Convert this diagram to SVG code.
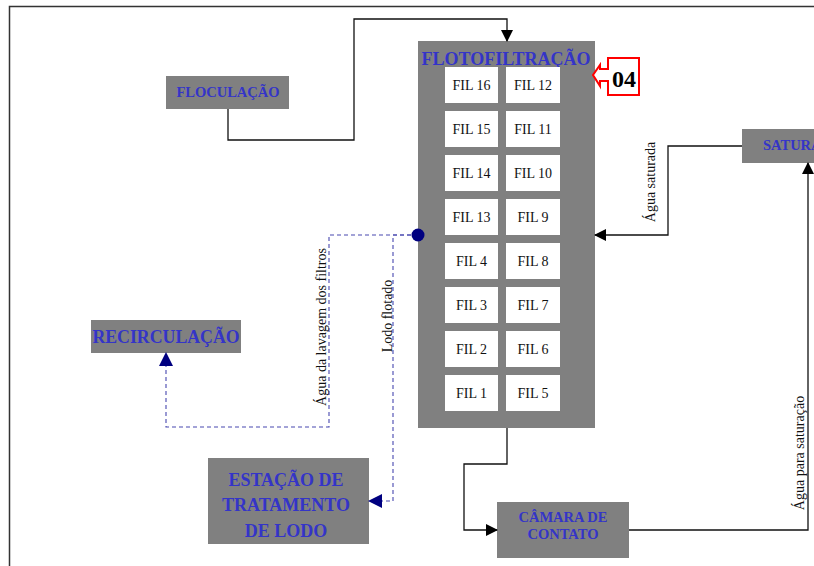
<svg xmlns="http://www.w3.org/2000/svg" width="814" height="566" viewBox="0 0 814 566">
<style>
.box{fill:#808080}
.lbl{font-family:"Liberation Serif",serif;font-weight:bold;fill:#3434c8;text-anchor:middle}
.cell{fill:#ffffff}
.ct{font-family:"Liberation Serif",serif;font-size:14px;fill:#111;text-anchor:middle}
.ln{fill:none;stroke:#111;stroke-width:1.3}
.dl{fill:none;stroke:#4848b0;stroke-width:1.1;stroke-dasharray:4,3}
.rt{font-family:"Liberation Serif",serif;font-size:14px;fill:#111;text-anchor:middle}
</style>
<defs>
<marker id="ah" markerWidth="12" markerHeight="12" refX="11" refY="6" orient="auto" markerUnits="userSpaceOnUse">
<path d="M0,0 L12,6 L0,12 Z" fill="#000"/>
</marker>
<marker id="an" markerWidth="14" markerHeight="14" refX="13" refY="7" orient="auto" markerUnits="userSpaceOnUse">
<path d="M0,0 L14,7 L0,14 Z" fill="#000080"/>
</marker>
</defs>
<rect width="814" height="566" fill="#fff"/>
<path d="M9.5,566 V6.5 H814" fill="none" stroke="#333" stroke-width="1.5"/>

<g id="floculacao">
<rect class="box" x="166" y="76" width="123" height="33"/>
<text class="lbl" x="228" y="97" font-size="14.5">FLOCULAÇÃO</text>
</g>

<g id="flotofiltracao">
<rect class="box" x="418" y="41" width="177" height="387"/>
<text class="lbl" x="506" y="65" font-size="18">FLOTOFILTRAÇÃO</text>
<g id="fil16"><rect class="cell" x="445" y="67" width="53" height="36"/><text class="ct" x="471.5" y="90">FIL 16</text></g>
<g id="fil12"><rect class="cell" x="506" y="67" width="54" height="36"/><text class="ct" x="533" y="90">FIL 12</text></g>
<g id="fil15"><rect class="cell" x="445" y="111" width="53" height="36"/><text class="ct" x="471.5" y="134">FIL 15</text></g>
<g id="fil11"><rect class="cell" x="506" y="111" width="54" height="36"/><text class="ct" x="533" y="134">FIL 11</text></g>
<g id="fil14"><rect class="cell" x="445" y="155" width="53" height="36"/><text class="ct" x="471.5" y="178">FIL 14</text></g>
<g id="fil10"><rect class="cell" x="506" y="155" width="54" height="36"/><text class="ct" x="533" y="178">FIL 10</text></g>
<g id="fil13"><rect class="cell" x="445" y="199" width="53" height="36"/><text class="ct" x="471.5" y="222">FIL 13</text></g>
<g id="fil9"><rect class="cell" x="506" y="199" width="54" height="36"/><text class="ct" x="533" y="222">FIL 9</text></g>
<g id="fil4"><rect class="cell" x="445" y="243" width="53" height="36"/><text class="ct" x="471.5" y="266">FIL 4</text></g>
<g id="fil8"><rect class="cell" x="506" y="243" width="54" height="36"/><text class="ct" x="533" y="266">FIL 8</text></g>
<g id="fil3"><rect class="cell" x="445" y="287" width="53" height="36"/><text class="ct" x="471.5" y="310">FIL 3</text></g>
<g id="fil7"><rect class="cell" x="506" y="287" width="54" height="36"/><text class="ct" x="533" y="310">FIL 7</text></g>
<g id="fil2"><rect class="cell" x="445" y="331" width="53" height="36"/><text class="ct" x="471.5" y="354">FIL 2</text></g>
<g id="fil6"><rect class="cell" x="506" y="331" width="54" height="36"/><text class="ct" x="533" y="354">FIL 6</text></g>
<g id="fil1"><rect class="cell" x="445" y="375" width="53" height="36"/><text class="ct" x="471.5" y="398">FIL 1</text></g>
<g id="fil5"><rect class="cell" x="506" y="375" width="54" height="36"/><text class="ct" x="533" y="398">FIL 5</text></g>
</g>

<g id="callout04">
<path d="M608,58 H639 V95 H608 V81 H600 V86 L593,75 L600,65 V69 H608 Z" fill="#fff" stroke="#ff0000" stroke-width="2"/>
<text x="624" y="87" font-family="'Liberation Serif',serif" font-weight="bold" font-size="24" fill="#000" text-anchor="middle">04</text>
</g>

<g id="saturacao">
<rect class="box" x="742" y="129" width="80" height="34"/>
<text x="763" y="150" font-family="'Liberation Serif',serif" font-weight="bold" font-size="14.5" fill="#3434c8">SATURAÇÃO</text>
</g>

<g id="recirculacao">
<rect class="box" x="91" y="320" width="150" height="33"/>
<text class="lbl" x="166" y="343" font-size="17.8">RECIRCULAÇÃO</text>
</g>

<g id="estacao">
<rect class="box" x="208" y="458" width="161" height="86"/>
<text class="lbl" x="286" y="486" font-size="18">ESTAÇÃO DE</text>
<text class="lbl" x="286" y="511" font-size="18">TRATAMENTO</text>
<text class="lbl" x="286" y="537" font-size="18">DE LODO</text>
</g>

<g id="camara">
<rect class="box" x="497" y="502" width="132" height="56"/>
<text class="lbl" x="563" y="522" font-size="14.5">CÂMARA DE</text>
<text class="lbl" x="563" y="539" font-size="14.5">CONTATO</text>
</g>

<g id="connectors">
<path class="ln" d="M228,109 V140 H354 V19 H507 V41" marker-end="url(#ah)"/>
<path class="ln" d="M742,146 H668 V235 H595" marker-end="url(#ah)"/>
<path class="ln" d="M507,428 V464 H464 V530 H497" marker-end="url(#ah)"/>
<path class="ln" d="M629,530 H808 V163" marker-end="url(#ah)"/>
<path class="dl" d="M418,235 H329 V427 H166 V353" marker-end="url(#an)"/>
<path class="dl" d="M418,235 H393 V501 H369" marker-end="url(#an)"/>
<circle cx="418" cy="235" r="6.5" fill="#000080"/>
<text class="rt" transform="translate(655,182) rotate(-90)">Água saturada</text>
<text class="rt" transform="translate(804,453) rotate(-90)">Água para saturação</text>
<text class="rt" transform="translate(326,327) rotate(-90)">Água da lavagem dos filtros</text>
<text class="rt" transform="translate(392,316) rotate(-90)">Lodo flotado</text>
</g>
</svg>
